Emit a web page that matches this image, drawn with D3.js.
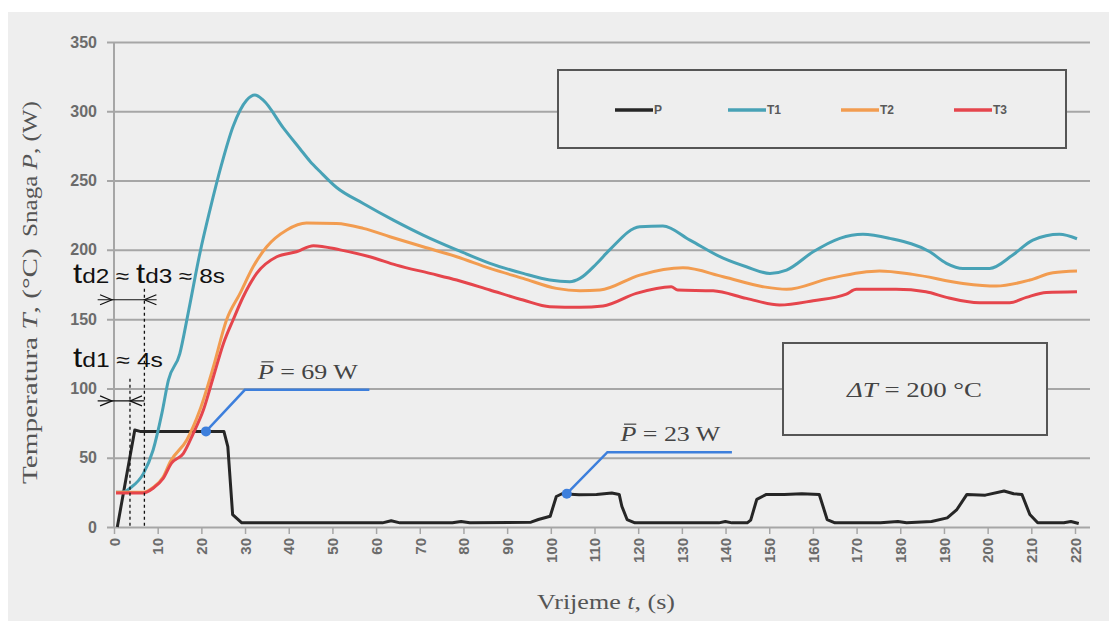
<!DOCTYPE html>
<html>
<head>
<meta charset="utf-8">
<script src="https://cdn.jsdelivr.net/npm/d3@7"></script>
<style>
  body { margin: 0; background: #fff; }
  svg { display: block; }
</style>
</head>
<body>
<svg id="chart" width="1109" height="621"></svg>
<script>
// axis ticks
let xTicks = d3.range(0, 221, 10);
let yTicks = [0, 50, 100, 150, 200, 250, 300, 350];

let seriesNames = ["P", "T1", "T2", "T3"];
let seriesColors = ["#262626", "#48a2b6", "#f29c50", "#e5454c"];

// P - power (W)
let pTime = [0.3, 4.3, 5.5, 24.7, 25.6, 26.7, 28.8, 40, 55, 61, 63, 65, 77, 79, 81, 95, 96.7, 99.4, 100.8, 102.1, 106, 110, 113.5, 115.2, 115.8, 117, 118.8, 130, 138, 139.5, 141, 144.5, 145.3, 146.7, 148.9, 153, 157, 161, 162.8, 164.6, 175, 179, 181, 186.7, 190.3, 192.5, 194.8, 199, 203.3, 205.5, 207.4, 209.2, 211, 217, 218.6, 220.4];
let pVals = [0, 70, 69, 69, 58, 9, 3, 3, 3, 3, 4.5, 3, 3, 4, 3, 3.5, 5.4, 7.8, 22, 24, 23.2, 23.5, 24.5, 23.5, 15, 5.4, 3, 3, 3, 4, 3, 3, 5, 20, 23.5, 23.5, 24, 23.5, 5.4, 3, 3, 4, 3, 4, 6.6, 12.6, 23.5, 23, 26, 24, 23.5, 9, 3, 3, 4, 2.5];

// T1
let t1Time = [0, 2, 3.2, 6.3, 8.5, 10.5, 12, 14.6, 16.5, 19.2, 21.5, 24.2, 26.8, 29.9, 31.8, 33.7, 38.3, 42.1, 44.4, 46.7, 50.5, 56.6, 63.5, 70.3, 78, 85.6, 93.2, 99.3, 103.9, 106.2, 110, 113, 119.9, 125.2, 131.4, 139, 144.3, 149.7, 153.5, 159.6, 165.7, 171, 177.1, 186.3, 190.1, 193.9, 200, 205.3, 209.9, 216, 220];
let t1Vals = [25, 25.5, 28, 38.7, 55.6, 82, 106, 125, 154, 197.5, 228.7, 262, 289, 308, 311.7, 308, 288, 273, 264, 256.5, 245, 233.5, 221.5, 210.7, 200, 190.3, 183, 178.2, 177, 179.4, 190, 200, 216.7, 217.2, 207, 194, 187.8, 183, 185.4, 198.6, 208.3, 211.2, 208.3, 198.6, 190.3, 186.6, 186.6, 196.3, 207, 211.2, 208];

// T2
let t2Time = [0, 6.2, 8.5, 10.8, 12.4, 16.2, 19.2, 22.3, 25.3, 28.4, 31.4, 34.5, 39.1, 43.6, 50.5, 56.6, 62.7, 70.3, 78, 85.6, 93.2, 100.8, 106.2, 110.8, 119.9, 129.8, 139, 148.1, 153.5, 163.4, 174.8, 182.4, 193.9, 201.5, 209.2, 214.5, 220];
let t2Vals = [25, 25, 28.5, 36, 47, 62.8, 84.4, 115.7, 149.4, 168.6, 187.8, 202.2, 214.3, 219.3, 219, 215.5, 209.5, 202.2, 195, 186.6, 179.4, 172.2, 170.5, 171, 181.8, 187, 180.6, 173.4, 171.5, 179.4, 184.7, 182.3, 175.8, 173.9, 178.2, 183.5, 184.7];

// T3
let t3Time = [0, 6.2, 8.5, 10.8, 12.7, 15.4, 17.7, 20, 22.3, 24.6, 26.8, 29.1, 32.2, 36.8, 41.3, 45.2, 51.3, 58.1, 64.2, 71.9, 78, 85.6, 93.2, 99.3, 106.2, 111.5, 119.1, 127.1, 128.6, 136.7, 144.3, 151.9, 159.6, 167.2, 169.5, 178.6, 185.4, 190.1, 197.7, 204.6, 208.4, 213, 220];
let t3Vals = [24.5, 24.5, 28, 35, 46, 53, 67.6, 84.4, 108.4, 132.5, 149.4, 166, 183, 195, 198.6, 203, 200, 195, 189, 183, 178.2, 171, 163.8, 159, 158.5, 159.5, 168.6, 173.4, 171, 170.5, 165, 160.2, 163.3, 168.1, 171.5, 171.5, 169.8, 165.7, 161.8, 161.8, 165.7, 169.3, 169.8];

let series = [
    {name: "P", time: pTime, vals: pVals, curve: d3.curveLinear},
    {name: "T1", time: t1Time, vals: t1Vals, curve: d3.curveMonotoneX},
    {name: "T2", time: t2Time, vals: t2Vals, curve: d3.curveMonotoneX},
    {name: "T3", time: t3Time, vals: t3Vals, curve: d3.curveMonotoneX}
];

let serif = "'Liberation Serif', 'Times New Roman', serif";
let sans = "'Liberation Sans', Arial, sans-serif";
let gridColor = "#a6a6a6";
let labelColor = "#6b6b6b";

let svg = d3.select("#chart");

svg.append("rect")
    .attr("x", 8).attr("y", 12)
    .attr("width", 1101).attr("height", 609)
    .attr("fill", "#eeeeee");

let x = d3.scaleLinear().domain([0, 220]).range([116, 1077]);
let y = d3.scaleLinear().domain([0, 350]).range([527, 42]);

let gridLeft = 107, gridRight = 1090;

// the source picture is stretched sideways, so texts get squeezed/stretched to the measured width
function stretchTo(g, text, width) {
    let w = text.node().getComputedTextLength();
    let tr = g.attr("transform") || "";
    g.attr("transform", tr + " scale(" + (width / w) + ",1)");
}

// y axis + gridlines
let yAxis = d3.axisLeft(y)
    .tickValues(yTicks)
    .tickSize(-(gridRight - gridLeft))
    .tickPadding(10);

let gy = svg.append("g")
    .attr("transform", "translate(" + gridLeft + ",0)")
    .call(yAxis);
gy.select(".domain").remove();
gy.selectAll("line").attr("stroke", gridColor).attr("stroke-width", 2);
gy.selectAll("text")
    .attr("fill", labelColor)
    .style("font-family", sans)
    .style("font-weight", "bold")
    .style("font-size", "16px");

svg.append("line")
    .attr("x1", 114).attr("x2", 114)
    .attr("y1", y(350)).attr("y2", y(0))
    .attr("stroke", gridColor).attr("stroke-width", 2);

// x axis
let xAxis = d3.axisBottom(x)
    .tickValues(xTicks)
    .tickSize(7)
    .tickPadding(0);

let gx = svg.append("g")
    .attr("transform", "translate(-2," + y(0) + ")")
    .call(xAxis);
gx.select(".domain").remove();
gx.selectAll("line").attr("stroke", gridColor).attr("stroke-width", 1.5);
gx.selectAll("text")
    .attr("transform", "rotate(-90)")
    .attr("x", -11)
    .attr("y", 0)
    .attr("dy", "0.35em")
    .style("text-anchor", "end")
    .attr("fill", labelColor)
    .style("font-family", sans)
    .style("font-weight", "bold")
    .style("font-size", "15px");

// axis titles
let xtg = svg.append("g").attr("transform", "translate(537,609)");
let xt = xtg.append("text")
    .attr("fill", "#555")
    .style("font-family", serif)
    .style("font-size", "21px");
xt.append("tspan").text("Vrijeme ");
xt.append("tspan").style("font-style", "italic").text("t");
xt.append("tspan").text(", (s)");
stretchTo(xtg, xt, 138);

let ytg1 = svg.append("g").attr("transform", "translate(37,484) rotate(-90)");
let yt1 = ytg1.append("text")
    .attr("fill", "#555")
    .style("font-family", serif)
    .style("font-size", "21px");
yt1.append("tspan").text("Temperatura ");
yt1.append("tspan").style("font-style", "italic").text("T");
yt1.append("tspan").text(", (°C)");
stretchTo(ytg1, yt1, 236);

let ytg2 = svg.append("g").attr("transform", "translate(37,237) rotate(-90)");
let yt2 = ytg2.append("text")
    .attr("fill", "#555")
    .style("font-family", serif)
    .style("font-size", "21px");
yt2.append("tspan").text("Snaga ");
yt2.append("tspan").style("font-style", "italic").text("P");
yt2.append("tspan").text(", (W)");
stretchTo(ytg2, yt2, 136);

// series lines
series.forEach((s, i) => {
    let pts = s.time.map((t, k) => [t, s.vals[k]]);
    let line = d3.line()
        .x(d => x(d[0]))
        .y(d => y(d[1]))
        .curve(s.curve);
    svg.append("path")
        .datum(pts)
        .attr("d", line)
        .attr("fill", "none")
        .attr("stroke", seriesColors[i])
        .attr("stroke-width", 3)
        .attr("stroke-linejoin", "round");
});

// legend
let legend = svg.append("g");
legend.append("rect")
    .attr("x", 558).attr("y", 70)
    .attr("width", 508).attr("height", 78)
    .attr("fill", "#eeeeee")
    .attr("stroke", "#555").attr("stroke-width", 2);

seriesNames.forEach((n, i) => {
    let lx = 615 + i * 113;
    legend.append("line")
        .attr("x1", lx).attr("x2", lx + 38)
        .attr("y1", 110).attr("y2", 110)
        .attr("stroke", seriesColors[i]).attr("stroke-width", 3.5);
    legend.append("text")
        .attr("x", lx + 39).attr("y", 114)
        .attr("fill", "#595959")
        .style("font-family", sans)
        .style("font-weight", "bold")
        .style("font-size", "12px")
        .text(n);
});

// deltaT box
svg.append("rect")
    .attr("x", 783).attr("y", 343)
    .attr("width", 264).attr("height", 92)
    .attr("fill", "#eeeeee")
    .attr("stroke", "#555").attr("stroke-width", 2);
let dtg = svg.append("g").attr("transform", "translate(847,397)");
let dt = dtg.append("text")
    .attr("fill", "#444")
    .style("font-family", serif)
    .style("font-size", "21px");
dt.append("tspan").style("font-style", "italic").text("ΔT");
dt.append("tspan").text(" = 200 °C");
stretchTo(dtg, dt, 135);

// mean power callouts
let blue = "#3d7fdc";
let callouts = [
    {dot: [20.6, 69], elbow: [29.5, 99], end: [58, 99], label: " = 69 W"},
    {dot: [103.2, 24], elbow: [112.5, 54], end: [141, 54], label: " = 23 W"}
];

callouts.forEach(c => {
    svg.append("path")
        .attr("d", d3.line()([c.dot, c.elbow, c.end].map(p => [x(p[0]), y(p[1])])))
        .attr("fill", "none")
        .attr("stroke", blue).attr("stroke-width", 2.5);
    svg.append("circle")
        .attr("cx", x(c.dot[0])).attr("cy", y(c.dot[1]))
        .attr("r", 5).attr("fill", blue);

    let g = svg.append("g")
        .attr("transform", "translate(" + (x(c.elbow[0]) + 13) + "," + (y(c.elbow[1]) - 11) + ")");
    let txt = g.append("text")
        .attr("fill", "#444")
        .style("font-family", serif)
        .style("font-size", "22px");
    txt.append("tspan").style("font-style", "italic").text("P");
    txt.append("tspan").text(c.label);
    let node = txt.node();
    let a = node.getStartPositionOfChar(0).x;
    let b = node.getEndPositionOfChar(0).x;
    g.append("line")
        .attr("x1", a + 3).attr("x2", b)
        .attr("y1", -17).attr("y2", -17)
        .attr("stroke", "#444").attr("stroke-width", 1.2);
    stretchTo(g, txt, 100);
});

// dead time marks
let dashT = [3.2, 6.5];
let dashTop = [107, 172];
dashT.forEach((t, i) => {
    svg.append("line")
        .attr("x1", x(t)).attr("x2", x(t))
        .attr("y1", y(dashTop[i])).attr("y2", y(0))
        .attr("stroke", "#111").attr("stroke-width", 1.3)
        .attr("stroke-dasharray", "3,3");
});

function chevron(px, py, dir) {
    // dir = 1 points right, -1 points left
    svg.append("path")
        .attr("d", "M" + (px - dir * 12) + "," + (py - 5) + "L" + px + "," + py + "L" + (px - dir * 12) + "," + (py + 5))
        .attr("fill", "none")
        .attr("stroke", "#111").attr("stroke-width", 1.2);
}

let arrows = [
    {v: 164, from: -4.2, to: 9.3, tip: 6.5},
    {v: 91, from: -4.2, to: 6.5, tip: 3.2}
];
arrows.forEach(a => {
    svg.append("line")
        .attr("x1", x(a.from)).attr("x2", x(a.to))
        .attr("y1", y(a.v)).attr("y2", y(a.v))
        .attr("stroke", "#111").attr("stroke-width", 1.2);
    chevron(x(-0.9), y(a.v), 1);
    chevron(x(a.tip), y(a.v), -1);
});

function tdLabel(px, py, parts, width) {
    let g = svg.append("g").attr("transform", "translate(" + px + "," + py + ")");
    let t = g.append("text")
        .attr("fill", "#111")
        .style("font-family", sans)
        .style("font-size", "20px");
    parts.forEach(p => {
        t.append("tspan").style("font-size", p[1] + "px").text(p[0]);
    });
    stretchTo(g, t, width);
}

tdLabel(73, 283, [["t", 27], ["d2 ≈ ", 20], ["t", 27], ["d3 ≈ 8s", 20]], 152);
tdLabel(73, 367, [["t", 27], ["d1 ≈ 4s", 20]], 90);
</script>
</body>
</html>
